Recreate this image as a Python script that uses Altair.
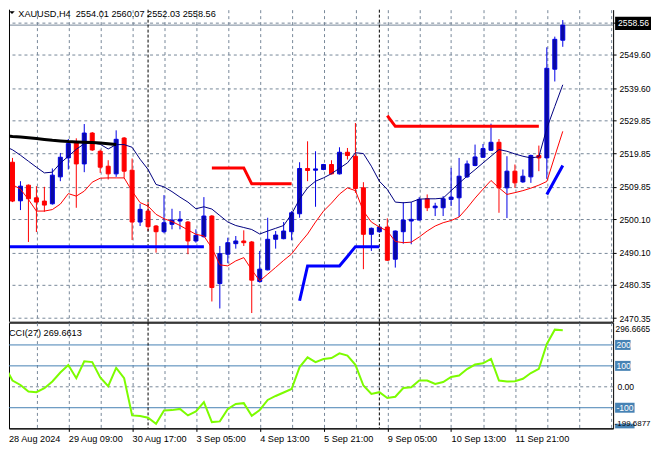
import json
import altair as alt
import pandas as pd

# ---------------- data ----------------
symbol_title = "XAUUSD,H4\u00a0 2554.01 2560.07 2552.03 2558.56"
cci_title = "CCI(27) 269.6613"
bid_price = 2558.56
bid_label = "2558.56"

opens = [2528.90, 2517.27, 2505.65, 2510.36, 2506.55, 2505.56, 2504.75, 2512.86, 2518.56, 2523.06,
         2516.76, 2526.06, 2520.57, 2516.07, 2513.76, 2524.56, 2514.87, 2499.26, 2502.56, 2498.06,
         2496.34, 2498.57, 2499.56, 2499.26, 2493.55, 2494.84, 2501.06, 2480.73, 2489.56, 2492.74,
         2493.55, 2493.25, 2481.33, 2484.85, 2494.06, 2494.24, 2496.34, 2501.75, 2515.38, 2514.87,
         2515.08, 2516.58, 2513.76, 2520.27, 2519.07, 2509.55, 2495.56, 2496.34, 2497.75, 2488.06,
         2496.34, 2499.56, 2499.86, 2506.25, 2503.55, 2503.55, 2506.07, 2506.55, 2512.86, 2516.27,
         2518.77, 2520.87, 2523.27, 2509.55, 2514.57, 2511.35, 2512.86, 2519.28, 2518.56, 2545.28,
         2554.01]
highs = [2529.30, 2518.56, 2511.56, 2510.57, 2510.06, 2509.85, 2515.38, 2520.06, 2524.26, 2524.47,
         2528.77, 2526.36, 2521.08, 2517.87, 2526.87, 2524.86, 2518.38, 2504.75, 2505.26, 2498.36,
         2507.36, 2503.25, 2502.56, 2499.56, 2497.06, 2506.76, 2501.36, 2492.05, 2494.54, 2495.05,
         2496.76, 2493.55, 2490.55, 2500.55, 2496.55, 2499.26, 2502.56, 2517.27, 2523.57, 2520.57,
         2516.76, 2517.87, 2521.77, 2521.56, 2529.07, 2511.26, 2497.60, 2497.90, 2500.37, 2496.70,
         2505.26, 2505.26, 2506.76, 2507.57, 2505.05, 2507.06, 2515.56, 2518.56, 2517.78, 2522.58,
         2522.76, 2528.88, 2524.26, 2519.07, 2516.58, 2515.08, 2519.58, 2522.28, 2551.88, 2555.09,
         2560.07]
lows = [2516.00, 2505.26, 2502.86, 2493.25, 2496.25, 2502.35, 2504.50, 2511.56, 2515.08, 2503.55,
        2514.27, 2520.66, 2514.06, 2512.07, 2512.86, 2512.56, 2493.85, 2498.06, 2496.55, 2490.04,
        2495.86, 2497.06, 2497.06, 2489.56, 2493.04, 2494.60, 2475.33, 2473.23, 2486.86, 2491.24,
        2492.05, 2471.85, 2481.03, 2484.70, 2491.24, 2494.06, 2493.76, 2500.55, 2511.56, 2503.85,
        2514.87, 2513.58, 2513.58, 2518.08, 2508.05, 2485.06, 2490.55, 2496.04, 2487.55, 2485.54,
        2492.74, 2492.56, 2499.70, 2502.56, 2501.06, 2501.06, 2504.06, 2500.76, 2512.56, 2516.07,
        2518.56, 2520.70, 2502.05, 2500.46, 2509.55, 2511.05, 2511.05, 2514.57, 2512.25, 2541.58,
        2552.03]
closes = [2516.60, 2505.56, 2510.06, 2506.25, 2505.26, 2504.36, 2513.37, 2518.77, 2522.88, 2516.76,
          2526.06, 2520.96, 2515.77, 2513.76, 2524.17, 2514.57, 2499.26, 2503.07, 2497.85, 2496.34,
          2499.05, 2499.86, 2500.07, 2493.55, 2495.26, 2501.06, 2479.53, 2489.74, 2493.04, 2493.55,
          2493.04, 2481.75, 2485.06, 2494.06, 2495.35, 2496.55, 2502.05, 2515.38, 2514.78, 2515.26,
          2516.58, 2513.76, 2520.27, 2519.28, 2509.37, 2495.56, 2497.37, 2497.75, 2487.76, 2496.55,
          2499.86, 2500.07, 2506.07, 2503.55, 2504.06, 2506.25, 2506.76, 2513.06, 2516.76, 2518.86,
          2521.38, 2523.27, 2509.55, 2514.57, 2511.05, 2513.06, 2519.28, 2518.56, 2545.58, 2554.28,
          2558.56]

ma_navy = [2522.07, 2521.02, 2519.37, 2517.57, 2515.77, 2514.06, 2514.27, 2516.97, 2519.07, 2521.17,
           2522.82, 2523.12, 2522.67, 2521.26, 2522.58, 2522.58, 2521.77, 2518.17, 2515.08, 2510.57,
           2509.85, 2508.41, 2506.76, 2505.26, 2503.25, 2503.85, 2503.16, 2501.21, 2499.26, 2498.21,
           2497.61, 2497.01, 2495.65, 2496.55, 2497.37, 2498.21, 2501.66, 2506.16, 2509.55, 2511.56,
           2512.56, 2513.82, 2515.47, 2517.06, 2520.12, 2519.88, 2516.07, 2511.56, 2509.07, 2505.26,
           2505.05, 2505.26, 2506.16, 2506.25, 2506.25, 2506.46, 2508.71, 2510.96, 2513.06, 2515.02,
           2517.06, 2519.07, 2521.08, 2520.57, 2519.76, 2519.07, 2518.56, 2518.92, 2527.47, 2534.08,
           2540.59]
ma_red = [2511.35, 2510.51, 2509.16, 2506.07, 2502.56, 2502.56, 2503.01, 2504.66, 2507.81, 2507.06,
          2508.56, 2511.26, 2512.46, 2512.55, 2512.55, 2512.55, 2508.56, 2505.11, 2504.06, 2501.57,
          2500.25, 2499.41, 2498.21, 2496.86, 2495.56, 2495.05, 2491.45, 2486.35, 2486.05, 2487.55,
          2488.54, 2484.85, 2481.54, 2483.55, 2485.60, 2487.70, 2489.65, 2492.80, 2495.65, 2499.26,
          2502.56, 2504.96, 2507.66, 2509.55, 2508.71, 2502.56, 2499.26, 2497.75, 2496.55, 2493.40,
          2493.04, 2493.19, 2494.75, 2496.55, 2498.06, 2499.05, 2499.71, 2500.76, 2503.46, 2506.46,
          2509.16, 2511.77, 2509.55, 2507.57, 2508.11, 2508.71, 2509.46, 2510.36, 2511.47, 2519.07,
          2526.57]

cci_vals = [101.4, 30.0, 8.6, -22.4, -25.7, -6.7, 25.2, 68.1, 103.8, 41.0,
            121.9, 118.1, 44.3, 2.9, 90.5, 41.0, -136.7, -140.0, -147.6, -176.2,
            -112.9, -111.4, -105.7, -136.7, -117.6, -73.3, -168.6, -165.2, -105.7, -81.9,
            -78.1, -139.0, -110.5, -62.9, -43.8, -27.1, -10.5, 94.3, 141.0, 118.1,
            132.4, 137.1, 160.0, 149.0, 104.8, 6.2, -34.3, -25.7, -53.3, -47.6,
            -5.7, -1.9, 30.0, 30.0, 13.3, 22.9, 46.7, 53.8, 84.8, 106.2,
            112.4, 133.3, 30.0, 25.2, 26.7, 38.1, 65.7, 85.7, 204.8, 272.9,
            269.66]

# thick trailing-stop style segments: start candle index + values
seg_black_start = 0
seg_black = [2525.28, 2525.01, 2524.83, 2524.62, 2524.38, 2524.11, 2523.87, 2523.69,
             2523.51, 2523.39, 2523.27, 2523.18, 2523.03, 2522.82, 2522.58]
seg_blue1_start = 0
seg_blue1 = [2491.84] * 26
seg_red1_start = 26
seg_red1 = [2515.56] * 5 + [2510.75] * 6
seg_blue2_start = 37
seg_blue2 = [2475.54, 2486.05, 2486.05, 2486.05, 2486.05, 2486.05, 2488.90,
             2491.84, 2491.84, 2491.84, 2491.84]
seg_red2_start = 48
seg_red2 = [2531.29] + [2528.08] * 19
seg_blue3_start = 68
seg_blue3 = [2507.57, 2511.93, 2516.28]

x_labels = ["28 Aug 2024", "29 Aug 09:00", "30 Aug 17:00", "3 Sep 05:00", "4 Sep 13:00",
            "5 Sep 21:00", "9 Sep 05:00", "10 Sep 13:00", "11 Sep 21:00"]
separators = [18, 47]
price_grid = [2470.35, 2480.35, 2490.10, 2500.10, 2509.85, 2519.85, 2529.85, 2539.60, 2549.60, 2559.35]
cci_levels3 = [200, 100]
cci_levels3_lab = ["200", "100"]
cci_levels4 = [-100, -200]
cci_levels4_lab = ["-100", ""]
cci_max_label = "296.6665"
cci_min_label = "-199.6877"

# ---------------- styling ----------------
W, HM, HC = 606, 313, 106
X0 = 0.5625
X1 = X0 + W / 8.0
P0, P1 = 2469.24, 2563.21
C0, C1 = -198.6, 306.2
FONT = "Liberation Sans"
FS = 9.2      # text inside the plot and time axis
FSR = 8.6     # right-hand price labels (room is limited to the page width)
GRID = "#778899"
BULL_FILL = "#0A0AA0"
BULL_LINE = "#0000E6"
BEAR = "#FF0000"
LEVEL = "#4682B4"
BOXH = 23.8  # half box height in CCI units

n = len(closes)
idx = list(range(n))
candles = pd.DataFrame({"i": idx, "o": opens, "h": highs, "l": lows, "c": closes})
candles["fill"] = [BULL_FILL if c >= o else BEAR for o, c in zip(opens, closes)]
candles["line"] = [BULL_LINE if c >= o else BEAR for o, c in zip(opens, closes)]
ma_df = pd.DataFrame({"i": idx, "navy": ma_navy, "red": ma_red})
cci_df = pd.DataFrame({"i": idx, "cci": cci_vals})

segs = [("k", seg_black_start, seg_black, "#000000"),
        ("b1", seg_blue1_start, seg_blue1, "#0000FF"),
        ("r1", seg_red1_start, seg_red1, "#FF0000"),
        ("b2", seg_blue2_start, seg_blue2, "#0000FF"),
        ("r2", seg_red2_start, seg_red2, "#FF0000"),
        ("b3", seg_blue3_start, seg_blue3, "#0000FF")]
seg_rows = []
for name, start, vals, col in segs:
    for k, v in enumerate(vals):
        seg_rows.append({"seg": name, "i": start + k, "p": v, "col": col})
seg_df = pd.DataFrame(seg_rows)
sep_df = pd.DataFrame({"i": separators})
one = pd.DataFrame({"a": [0]})

xs = alt.Scale(domain=[X0, X1], nice=False, zero=False, padding=0)
ps = alt.Scale(domain=[P0, P1], nice=False, zero=False, padding=0)
cs = alt.Scale(domain=[C0, C1], nice=False, zero=False, padding=0)
grid_x = list(range(4, 77, 4))

x_axis_main = alt.Axis(values=grid_x, grid=True, gridColor=GRID, gridDash=[3, 3], gridWidth=1,
                       labels=False, ticks=False, domain=True, domainColor="black", title=None)
label_expr = ("(datum.value % 8 === 0 && datum.value <= 64) ? "
              + json.dumps(x_labels) + "[datum.value / 8] : ''")
x_axis_cci = alt.Axis(values=grid_x, grid=True, gridColor=GRID, gridDash=[3, 3], gridWidth=1,
                      labelExpr=label_expr, labelAlign="left", labelBaseline="alphabetic",
                      labelPadding=10, tickSize=3,
                      tickColor={"condition": {"test": "datum.value % 8 === 0 && datum.value <= 64",
                                               "value": "black"}, "value": "transparent"},
                      domain=True, domainColor="black", labelFont=FONT, labelFontSize=FS,
                      labelColor="black", labelFlush=False, labelOverlap=False, labelBound=False,
                      title=None)
p_axis = alt.Axis(orient="right", values=price_grid, grid=True, gridColor=GRID, gridDash=[3, 3],
                  gridWidth=1,
                  labelExpr="datum.value > 2555 ? '' : format(datum.value, '.2f')",
                  labelAlign="left", labelBaseline="middle", labelPadding=3, tickSize=3,
                  tickColor="black", domainColor="black", labelFont=FONT, labelFontSize=FSR,
                  labelColor="black", labelOverlap=False, labelBound=False, labelFlush=False,
                  title=None)

xm = alt.X("i:Q", scale=xs, axis=x_axis_main)
xc = alt.X("i:Q", scale=xs, axis=x_axis_cci)


def py(field):
    return alt.Y(field, type="quantitative", scale=ps, axis=p_axis)


def cy(field):
    return alt.Y(field, type="quantitative", scale=cs, axis=None)


# ---------------- main panel ----------------
bid_df = pd.DataFrame({"p": [bid_price], "lab": [bid_label]})
bid_line = alt.Chart(bid_df).mark_rule(color=GRID, strokeWidth=1).encode(y=py("p:Q"))
seps_main = alt.Chart(sep_df).mark_rule(color="black", strokeDash=[3, 2], strokeWidth=1).encode(x=xm)
wicks = alt.Chart(candles).mark_rule(strokeWidth=1, clip=True).encode(
    x=xm, y=py("l:Q"), y2="h", color=alt.Color("line:N", scale=None))
bodies = alt.Chart(candles).mark_bar(size=4, strokeWidth=1, clip=True).encode(
    x=xm, y=py("o:Q"), y2="c", fill=alt.Fill("fill:N", scale=None),
    stroke=alt.Stroke("line:N", scale=None))
navy_line = alt.Chart(ma_df).mark_line(color="#000080", strokeWidth=1, clip=True).encode(
    x=xm, y=py("navy:Q"))
red_line = alt.Chart(ma_df).mark_line(color="#FF0000", strokeWidth=1, clip=True).encode(
    x=xm, y=py("red:Q"))
thick = alt.Chart(seg_df).mark_line(strokeWidth=3, clip=True).encode(
    x=xm, y=py("p:Q"), detail="seg:N", color=alt.Color("col:N", scale=None))
left_border = alt.Chart(one).mark_rule(color="black", strokeWidth=1).encode(x=alt.value(0.5))
bid_box = alt.Chart(bid_df).transform_calculate(
    top="datum.p + 2.55", bot="datum.p - 1.45").mark_rect(color="black").encode(
    x=alt.value(W + 2), x2=alt.value(W + 38), y=py("top:Q"), y2="bot:Q")
bid_text = alt.Chart(bid_df).mark_text(align="left", baseline="middle", dy=-1.8, font=FONT,
                                       fontSize=FSR, color="white").encode(
    x=alt.value(W + 5), y=py("p:Q"), text="lab:N")
title_df = pd.DataFrame({"t": [symbol_title]})
title_txt = alt.Chart(title_df).mark_text(align="left", baseline="top", font=FONT, fontSize=FS,
                                          color="black").encode(
    x=alt.value(9.3), y=alt.value(0), text="t:N")
tri = alt.Chart(one).mark_point(shape="M-1,-0.5L1,-0.5L0,0.5Z", size=31, filled=True,
                                color="black", opacity=1).encode(x=alt.value(3), y=alt.value(3))

main = alt.layer(wicks, bid_line, seps_main, bodies, navy_line, red_line, thick, left_border,
                 bid_box, bid_text, title_txt, tri).properties(width=W, height=HM)

# ---------------- CCI panel ----------------
lev_df = pd.DataFrame({"v": [200, 100, -100]})
lev_rules = alt.Chart(lev_df).mark_rule(color=LEVEL, strokeWidth=1).encode(y=cy("v:Q"))
zero_df = pd.DataFrame({"v": [0.0], "lab": ["0.00"]})
zero_rule = alt.Chart(zero_df).mark_rule(color=GRID, strokeDash=[3, 3], strokeWidth=1).encode(
    y=cy("v:Q"))
seps_cci = alt.Chart(sep_df).mark_rule(color="black", strokeDash=[3, 2], strokeWidth=1).encode(x=xc)
cci_line = alt.Chart(cci_df).mark_line(color="#7CFC00", strokeWidth=2, clip=True).encode(
    x=xc, y=cy("cci:Q"))

l3 = pd.DataFrame({"v": cci_levels3, "lab": cci_levels3_lab})
l4 = pd.DataFrame({"v": cci_levels4, "lab": cci_levels4_lab})
box3 = alt.Chart(l3).transform_calculate(
    top=f"datum.v + {BOXH}", bot=f"max(datum.v - {BOXH}, {C0})").mark_rect(color=LEVEL).encode(
    x=alt.value(W + 2), x2=alt.value(W + 17.5), y=cy("top:Q"), y2="bot:Q")
box4 = alt.Chart(l4).transform_calculate(
    top=f"datum.v + {BOXH}", bot=f"max(datum.v - {BOXH}, {C0})").mark_rect(color=LEVEL).encode(
    x=alt.value(W + 2), x2=alt.value(W + 21.5), y=cy("top:Q"), y2="bot:Q")
txt3 = alt.Chart(l3).mark_text(align="left", baseline="middle", font=FONT, fontSize=FSR,
                               color="white").encode(x=alt.value(W + 3.3), y=cy("v:Q"), text="lab:N")
txt4 = alt.Chart(l4).mark_text(align="left", baseline="middle", font=FONT, fontSize=FSR,
                               color="white").encode(x=alt.value(W + 3.3), y=cy("v:Q"), text="lab:N")
zero_txt = alt.Chart(zero_df).mark_text(align="left", baseline="middle", font=FONT, fontSize=FSR,
                                        color="black").encode(
    x=alt.value(W + 4.3), y=cy("v:Q"), text="lab:N")
mm_df = pd.DataFrame({"lab": [cci_max_label, cci_min_label], "pos": ["top", "bottom"]})
max_txt = alt.Chart(mm_df).transform_filter("datum.pos == 'top'").mark_text(
    align="left", baseline="middle", font=FONT, fontSize=8.3, color="black").encode(
    x=alt.value(W + 2.5), y=alt.value(7.7), text="lab:N")
min_txt = alt.Chart(mm_df).transform_filter("datum.pos == 'bottom'").mark_text(
    align="left", baseline="middle", font=FONT, fontSize=8.0, color="black").encode(
    x=alt.value(W + 1.5), y=alt.value(101.3), text="lab:N")
cci_lab_df = pd.DataFrame({"t": [cci_title]})
cci_txt = alt.Chart(cci_lab_df).mark_text(align="left", baseline="alphabetic", font=FONT,
                                          fontSize=FS, color="black").encode(
    x=alt.value(0), y=alt.value(13), text="t:N")
first_lab_df = pd.DataFrame({"t": [x_labels[0]]})
first_lab = alt.Chart(first_lab_df).mark_text(align="left", baseline="alphabetic", font=FONT,
                                              fontSize=FS, color="black").encode(
    x=alt.value(0), y=alt.value(HC + 13.3), text="t:N")

cci_chart = alt.layer(lev_rules, zero_rule, seps_cci, cci_line, box3, box4, txt3, txt4, zero_txt,
                      max_txt, min_txt, cci_txt, first_lab).properties(
    width=W, height=HC, view=alt.ViewBackground(stroke="black", strokeWidth=1))

chart = alt.vconcat(main, cci_chart, spacing=1, bounds="flush").properties(
    padding=0, background="white").configure_view(stroke=None)

chart.save("out.html", embed_options={"renderer": "svg", "actions": False})
